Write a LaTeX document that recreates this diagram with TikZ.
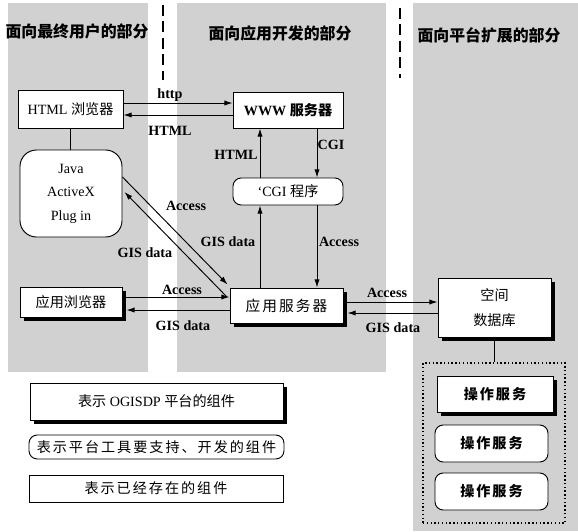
\documentclass[tikz,border=0pt]{standalone}
\usepackage{fontspec}
\setmainfont{Liberation Serif}
\newfontfamily\cjk{Noto Sans CJK SC}
\newfontfamily\cjksp{Noto Sans CJK SC}[LetterSpace=14]
\usetikzlibrary{arrows.meta,shadows,calc}
\newcommand\zhtxt[1]{{\cjk #1}}
\begin{document}
\begin{tikzpicture}[x=0.85pt,y=-0.85pt,
  wh/.style 2 args={minimum width=#1*0.85pt, minimum height=#2*0.85pt},
  comp/.style={draw, line width=0.8pt, fill=white, inner sep=0pt, font=\fontsize{12}{14}\selectfont},
  plainbox/.style={comp},
  shadbox/.style={comp, drop shadow={shadow xshift=3pt, shadow yshift=-3pt, fill=black, opacity=1}},
  rndbox/.style={comp, rounded corners=7pt},
  arr/.style={line width=0.8pt, -{Latex[length=7pt,width=4.5pt]}},
  conn/.style={line width=0.8pt},
  lbl/.style={font=\fontsize{12}{14}\selectfont\bfseries, inner sep=0pt},
  ttl/.style={font=\fontsize{13.5}{15}\selectfont\cjk\bfseries, inner sep=0pt},
  bg/.style={fill=black!18, draw=none},
  sepline/.style={line width=1.6pt, dash pattern=on 9pt off 5pt}]
\useasboundingbox (0,0) rectangle (578,531);
% shaded panels
\fill[bg] (8,3) rectangle (148,372);
\fill[bg] (177,3) rectangle (386,372);
\fill[bg] (413,3) rectangle (578,531);
% separators
\draw[sepline] (163,5) -- (163,80);
\draw[sepline] (400,8) -- (400,78);
% titles
\node[ttl] (t1) at (77,31) {面向最终用户的部分};
\node[ttl] (t2) at (280,33) {面向应用开发的部分};
\node[ttl] (t3) at (489,35) {面向平台扩展的部分};
% components
\node[plainbox, wh={105}{38}] (hb) at (70.5,109) {HTML \zhtxt{浏览器}};
\node[plainbox, wh={110}{36}, font=\fontsize{12}{14}\selectfont\bfseries] (www) at (288,110) {WWW {\cjk\bfseries 服务器}};
\node[rndbox, rounded corners=14pt, wh={102}{87}, align=center, font=\fontsize{12}{20}\selectfont] (java) at (71,193.5) {Java\\ActiveX\\Plug in};
\node[rndbox, wh={110}{27}] (cgi) at (288,191.5) {`CGI \zhtxt{程序}};
\node[shadbox, wh={102}{30}] (ab) at (71,302) {\zhtxt{应用浏览器}};
\node[shadbox, wh={113}{35}, font=\fontsize{12.5}{14}\selectfont] (as) at (286.5,305.5) {{\cjksp 应用服务器}};
\node[shadbox, wh={113}{59}, align=center, font=\fontsize{12}{21}\selectfont\cjk] (db) at (494.5,307.5) {空间\\数据库};
\node[draw, dotted, line width=1.2pt, wh={142}{160}] (grp) at (494,443) {};
\node[shadbox, wh={116}{36}, font=\fontsize{12}{14}\selectfont\cjksp\bfseries] (op1) at (495,394) {操作服务};
\node[rndbox, wh={113}{37}, font=\fontsize{12}{14}\selectfont\cjksp\bfseries] (op2) at (491.5,443.5) {操作服务};
\node[rndbox, wh={113}{37}, font=\fontsize{12}{14}\selectfont\cjksp\bfseries] (op3) at (491.5,491.5) {操作服务};
% legend
\node[shadbox, wh={253}{37}] (l1) at (156.5,401.5) {\zhtxt{表示} OGISDP \zhtxt{平台的组件}};
\node[rndbox, wh={255}{24}, font=\fontsize{12}{14}\selectfont\cjksp] (l2) at (156.5,447) {表示平台工具要支持、开发的组件};
\node[plainbox, wh={254}{27}, font=\fontsize{12}{14}\selectfont\cjksp] (l3) at (156,488.5) {表示已经存在的组件};
% connectors
\draw[arr] ($(hb.east)+(0,-6)$) -- ($(www.west)+(0,-7)$);
\draw[arr] ($(www.west)+(0,5)$) -- ($(hb.east)+(0,6)$);
\draw[conn] (hb.south) -- (hb.south |- java.north);
\draw[arr] ($(cgi.north)+(-28,0)$) -- ($(www.south)+(-28,0)$);
\draw[arr] ($(www.south)+(29,0)$) -- ($(cgi.north)+(29,0)$);
\draw[arr] ($(as.north)+(-26.5,0)$) -- ($(cgi.south)+(-28,0)$);
\draw[arr] ($(cgi.south)+(29,0)$) -- ($(as.north)+(30.5,0)$);
\draw[arr] ($(java.east)+(0,-16.5)$) -- ($(as.north west)+(-2,-3)$);
\draw[arr] ($(as.north west)+(-3,9)$) -- ($(java.east)+(2,-1.5)$);
\draw[arr] ($(ab.east)+(4,-5)$) -- ($(as.west)+(0,-8.5)$);
\draw[arr] ($(as.west)+(0,4.5)$) -- ($(ab.east)+(4,8)$);
\draw[arr] ($(as.east)+(4,-3.5)$) -- ($(db.west)+(0,-5.5)$);
\draw[arr] ($(db.west)+(0,5.5)$) -- ($(as.east)+(4,7.5)$);
\draw[conn] (db.south) -- (db.south |- grp.north);
% labels
\node[lbl] (lhttp) at (170,95) {http};
\node[lbl] (lhtml1) at (170,131) {HTML};
\node[lbl] (lhtml2) at (236,155) {HTML};
\node[lbl] (lcgi) at (331,145) {CGI};
\node[lbl] (lgis1) at (228,242) {GIS data};
\node[lbl] (lacc1) at (339,242) {Access};
\node[lbl] (lacc2) at (186,206) {Access};
\node[lbl] (lgis2) at (145,253) {GIS data};
\node[lbl] (lacc3) at (182,290) {Access};
\node[lbl] (lgis3) at (183,326) {GIS data};
\node[lbl] (lacc4) at (387,293) {Access};
\node[lbl] (lgis4) at (393,328) {GIS data};
\end{tikzpicture}
\end{document}
